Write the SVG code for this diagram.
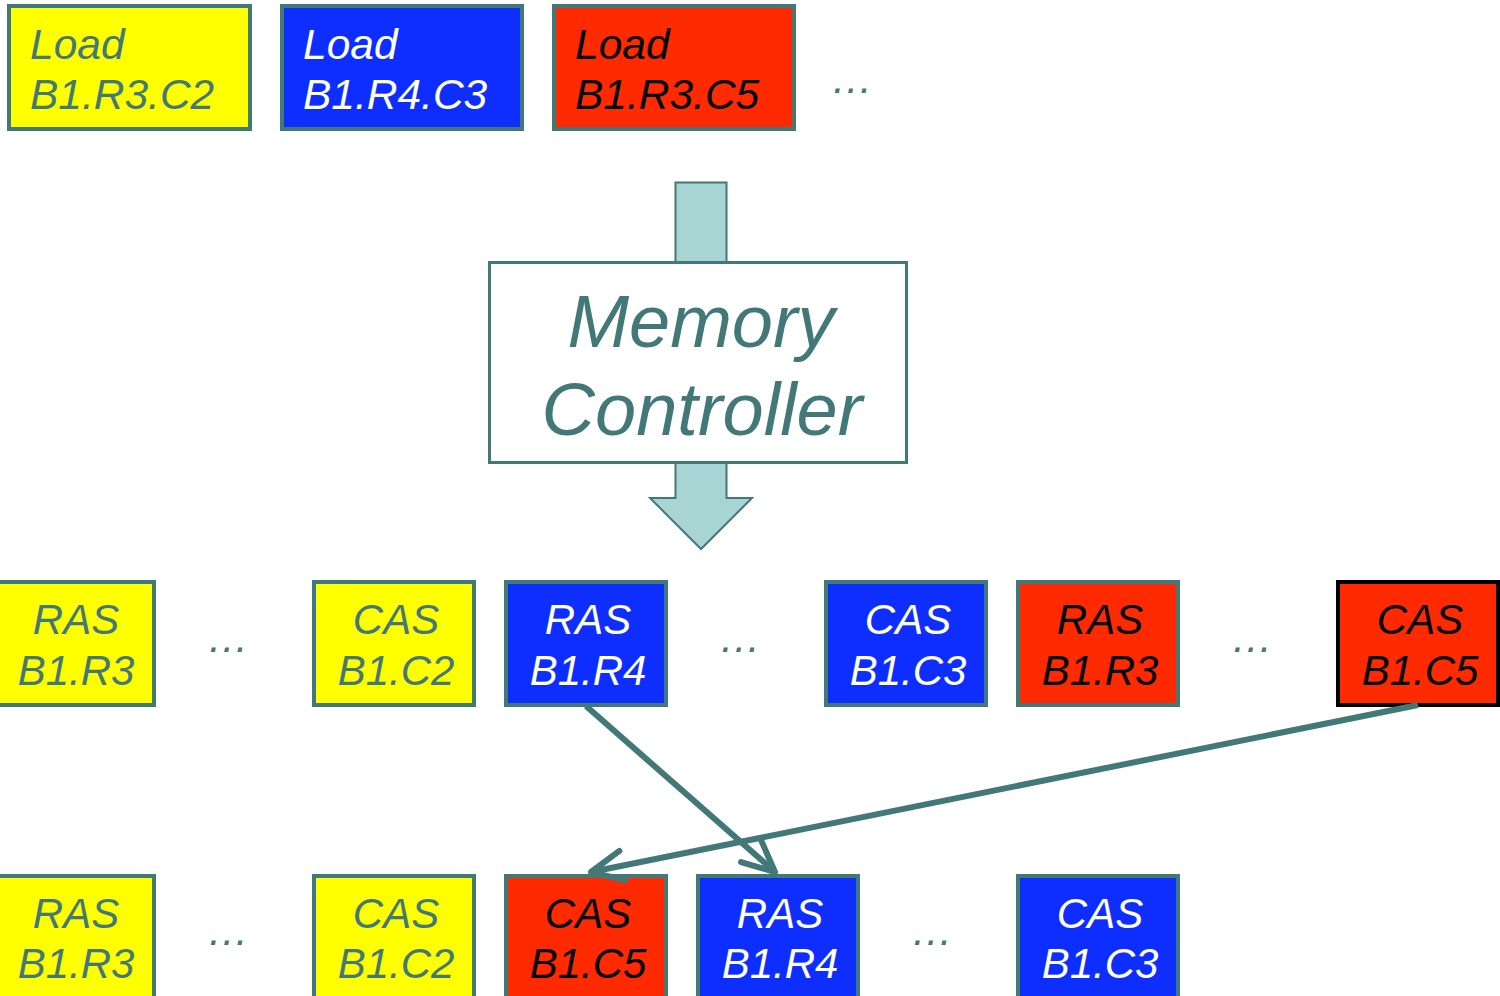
<svg xmlns="http://www.w3.org/2000/svg" width="1500" height="996" viewBox="0 0 1500 996">
<style>
.box{stroke:#437878;stroke-width:4}
.y{fill:#FFFF00}.b{fill:#0D2EFF}.r{fill:#FF2A00}
text{font-family:"Liberation Sans",Arial,sans-serif;font-style:italic}
.lt{font-size:42.5px}
.st{font-size:42px;text-anchor:middle}
.ty{fill:#437878}.tb{fill:#FFFFFF}.tr{fill:#000000}
.dots{font-size:42px;fill:#437878;text-anchor:middle}
.conn{stroke:#437878;stroke-width:6;fill:none}
</style>
<defs>
<marker id="chev" markerUnits="userSpaceOnUse" markerWidth="50" markerHeight="50" viewBox="-40 -25 50 50" refX="0" refY="0" orient="auto">
<path d="M-32,-15 L0,0 L-32,15" fill="none" stroke="#437878" stroke-width="6" stroke-linecap="round" stroke-linejoin="round"/>
</marker>
</defs>
<rect width="1500" height="996" fill="#FFFFFF"/>

<g id="load1"><rect class="box y" x="9" y="6" width="241" height="123"/><text class="lt ty" x="30" y="59">Load</text><text class="lt ty" x="30" y="109">B1.R3.C2</text></g>
<g id="load2"><rect class="box b" x="282" y="6" width="240" height="123"/><text class="lt tb" x="303" y="59">Load</text><text class="lt tb" x="303" y="109">B1.R4.C3</text></g>
<g id="load3"><rect class="box r" x="554" y="6" width="240" height="123"/><text class="lt tr" x="575" y="59">Load</text><text class="lt tr" x="575" y="109">B1.R3.C5</text></g>
<g id="dots0"><text class="dots" x="852" y="93">…</text></g>

<g id="arrow-in"><rect x="675.5" y="182.5" width="51" height="80" fill="#A9D4D4" stroke="#437878" stroke-width="2"/></g>
<g id="arrow-out"><path d="M675.5,463 L675.5,498 L650,498 L701,549 L752,498 L726.5,498 L726.5,463" fill="#A9D4D4" stroke="#437878" stroke-width="2"/></g>
<g id="mc"><rect x="489.5" y="262.5" width="417" height="200" fill="#FFFFFF" stroke="#437878" stroke-width="3"/>
<text x="701" y="347" font-size="74" fill="#437878" text-anchor="middle">Memory</text>
<text x="702" y="435" font-size="74" fill="#437878" text-anchor="middle">Controller</text></g>

<g id="m1"><rect class="box y" x="-6" y="582" width="160" height="123"/><text class="st ty" x="76" y="634">RAS</text><text class="st ty" x="76" y="685">B1.R3</text></g>
<g id="dots1"><text class="dots" x="228" y="652">…</text></g>
<g id="m2"><rect class="box y" x="314" y="582" width="160" height="123"/><text class="st ty" x="396" y="634">CAS</text><text class="st ty" x="396" y="685">B1.C2</text></g>
<g id="m3"><rect class="box b" x="506" y="582" width="160" height="123"/><text class="st tb" x="588" y="634">RAS</text><text class="st tb" x="588" y="685">B1.R4</text></g>
<g id="dots2"><text class="dots" x="740" y="652">…</text></g>
<g id="m4"><rect class="box b" x="826" y="582" width="160" height="123"/><text class="st tb" x="908" y="634">CAS</text><text class="st tb" x="908" y="685">B1.C3</text></g>
<g id="m5"><rect class="box r" x="1018" y="582" width="160" height="123"/><text class="st tr" x="1100" y="634">RAS</text><text class="st tr" x="1100" y="685">B1.R3</text></g>
<g id="dots3"><text class="dots" x="1252" y="652">…</text></g>
<g id="m6"><rect class="r" x="1338" y="582" width="160" height="123" stroke="#000000" stroke-width="4"/><text class="st tr" x="1420" y="634">CAS</text><text class="st tr" x="1420" y="685">B1.C5</text></g>

<g id="b1"><rect class="box y" x="-6" y="876" width="160" height="130"/><text class="st ty" x="76" y="928">RAS</text><text class="st ty" x="76" y="978">B1.R3</text></g>
<g id="dots4"><text class="dots" x="228" y="945">…</text></g>
<g id="b2"><rect class="box y" x="314" y="876" width="160" height="130"/><text class="st ty" x="396" y="928">CAS</text><text class="st ty" x="396" y="978">B1.C2</text></g>
<g id="b3"><rect class="box r" x="506" y="876" width="160" height="130"/><text class="st tr" x="588" y="928">CAS</text><text class="st tr" x="588" y="978">B1.C5</text></g>
<g id="b4"><rect class="box b" x="698" y="876" width="160" height="130"/><text class="st tb" x="780" y="928">RAS</text><text class="st tb" x="780" y="978">B1.R4</text></g>
<g id="dots5"><text class="dots" x="932" y="945">…</text></g>
<g id="b5"><rect class="box b" x="1018" y="876" width="160" height="130"/><text class="st tb" x="1100" y="928">CAS</text><text class="st tb" x="1100" y="978">B1.C3</text></g>

<g id="connectors">
<line class="conn" x1="586" y1="706" x2="775" y2="872" marker-end="url(#chev)"/>
<line class="conn" x1="1418" y1="705" x2="591" y2="872" marker-end="url(#chev)"/>
</g>
</svg>
